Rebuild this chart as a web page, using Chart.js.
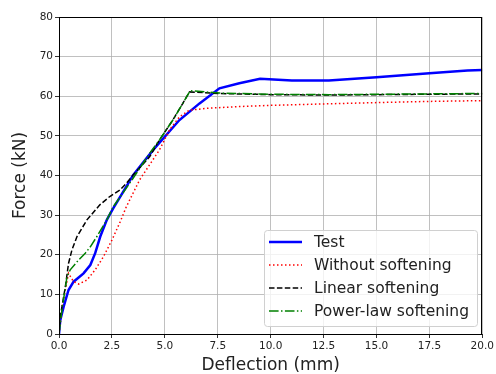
<!DOCTYPE html>
<html>
<head>
<meta charset="utf-8">
<script src="https://cdn.jsdelivr.net/npm/chart.js@4/dist/chart.umd.min.js"></script>
<style>
  html, body { margin: 0; padding: 0; background: #fff; }
  canvas { display: block; }
</style>
</head>
<body>
<canvas id="fd" width="496" height="374"></canvas>
<script>
// Force-deflection curves.
const testX = [0, 0.06, 0.22, 0.45, 0.69, 1.16, 1.48, 1.71, 1.95, 2.26, 2.56, 3.18, 3.5, 4.44, 5.69, 6.64, 7.58, 8.52, 9.5, 11.0, 12.75, 15.0, 17.5, 19.3, 20.0];
const testY = [0, 3.5, 6.9, 11.1, 13.2, 15.3, 17.4, 20.4, 24.6, 28.8, 31.7, 37.2, 40.1, 46.4, 54.0, 58.2, 62.0, 63.3, 64.4, 64.0, 64.0, 64.8, 65.8, 66.5, 66.6];

const noSoftX = [0, 0.15, 0.45, 0.69, 0.93, 1.32, 1.71, 2.1, 2.5, 2.89, 3.18, 3.81, 4.75, 5.22, 5.69, 6.16, 7.1, 8.52, 10.0, 12.75, 15.0, 17.5, 20.0];
const noSoftY = [0, 7.0, 15.3, 13.2, 12.6, 13.6, 16.2, 19.5, 23.7, 28.3, 32.1, 38.9, 46.5, 51.5, 54.8, 56.5, 57.0, 57.4, 57.7, 58.1, 58.4, 58.7, 58.9];

const linSoftX = [0, 0.06, 0.3, 0.45, 0.61, 0.85, 1.32, 1.93, 2.4, 2.87, 3.18, 3.5, 4.28, 4.75, 5.38, 5.85, 6.16, 7.58, 10.0, 12.75, 15.0, 17.5, 20.0];
const linSoftY = [0, 4.4, 11.9, 17.8, 21.2, 24.6, 28.8, 32.6, 34.7, 36.3, 38.0, 40.1, 44.7, 49.0, 54.0, 58.2, 61.1, 60.7, 60.4, 60.3, 60.4, 60.5, 60.6];

const powSoftX = [0, 0.14, 0.38, 0.53, 0.93, 1.24, 1.48, 1.79, 2.26, 2.56, 3.18, 3.5, 4.28, 4.75, 5.38, 5.85, 6.2, 7.58, 10.0, 12.75, 15.0, 17.5, 20.0];
const powSoftY = [0, 6.1, 14.5, 16.2, 18.7, 20.4, 22.0, 24.6, 28.8, 32.1, 36.8, 39.3, 45.6, 49.0, 54.0, 58.2, 61.4, 60.8, 60.5, 60.4, 60.5, 60.6, 60.7];

const seriesLabels = ["Test", "Without softening", "Linear softening", "Power-law softening"];
const xTicks = [0, 2.5, 5, 7.5, 10, 12.5, 15, 17.5, 20];
const yTicks = [0, 10, 20, 30, 40, 50, 60, 70, 80];

const FONT = "'DejaVu Sans', sans-serif";
const pts = (xs, ys) => xs.map((x, i) => ({ x, y: ys[i] }));

const styles = [
  { borderColor: "#0000ff", borderWidth: 2.5, borderDash: [] },
  { borderColor: "#ff0000", borderWidth: 1.5, borderDash: [1.5, 2.5] },
  { borderColor: "#000000", borderWidth: 1.5, borderDash: [5.5, 2.4] },
  { borderColor: "#008000", borderWidth: 1.5, borderDash: [9.6, 2.4, 1.5, 2.4] },
];
const values = [pts(testX, testY), pts(noSoftX, noSoftY), pts(linSoftX, linSoftY), pts(powSoftX, powSoftY)];

const datasets = values.map((d, i) => ({
  label: seriesLabels[i],
  data: d,
  ...styles[i],
  pointRadius: 0,
  tension: 0,
  fill: false,
  order: values.length - i, // later series on top, like matplotlib
}));

// black frame round the plot + matplotlib-ish legend box in the lower right
const frameAndLegend = {
  id: "frameAndLegend",
  afterDatasetsDraw(chart) {
    const { ctx, chartArea: a } = chart;
    ctx.save();
    ctx.strokeStyle = "#000";
    ctx.lineWidth = 1;
    ctx.setLineDash([]);
    ctx.strokeRect(Math.round(a.left) + 0.5, Math.round(a.top) + 0.5,
      Math.round(a.right - a.left) - 1, Math.round(a.bottom - a.top));

    const bx = 264, by = 230, bw = 213, bh = 96, r = 3;
    ctx.beginPath();
    ctx.roundRect(bx + 0.5, by + 0.5, bw, bh, r);
    ctx.fillStyle = "rgba(255,255,255,0.8)";
    ctx.fill();
    ctx.strokeStyle = "#d0d0d0";
    ctx.stroke();

    ctx.font = "15.5px " + FONT;
    ctx.textBaseline = "middle";
    chart.data.datasets.forEach((ds, i) => {
      const yy = 242 + i * 23;
      ctx.beginPath();
      ctx.strokeStyle = ds.borderColor;
      ctx.lineWidth = ds.borderWidth;
      ctx.setLineDash(ds.borderDash);
      ctx.moveTo(269, yy);
      ctx.lineTo(302, yy);
      ctx.stroke();
      ctx.setLineDash([]);
      ctx.fillStyle = "#222";
      ctx.fillText(ds.label, 314, yy + 1);
    });
    ctx.restore();
  },
};

new Chart(document.getElementById("fd"), {
  type: "line",
  data: { datasets },
  plugins: [frameAndLegend],
  options: {
    responsive: false,
    animation: false,
    layout: { padding: { top: 17, right: 12, left: 0, bottom: 0 } },
    plugins: { legend: { display: false }, tooltip: { enabled: false } },
    scales: {
      x: {
        type: "linear",
        min: 0,
        max: 20,
        afterFit: (s) => { s.height = 40; },
        afterBuildTicks: (s) => { s.ticks = xTicks.map((v) => ({ value: v })); },
        ticks: { font: { family: FONT, size: 10.5 }, color: "#222", padding: 2, maxRotation: 0,
          callback: (v) => Number(v).toFixed(1) },
        grid: { color: "#b0b0b0", lineWidth: 0.8, tickColor: "#000", tickLength: 4 },
        border: { display: true, color: "#000" },
        title: { display: true, text: "Deflection (mm)", font: { family: FONT, size: 17 }, color: "#222",
          padding: { top: 0, bottom: -2 } },
      },
      y: {
        min: 0,
        max: 80,
        afterFit: (s) => { s.width = 59; },
        afterBuildTicks: (s) => { s.ticks = yTicks.map((v) => ({ value: v })); },
        ticks: { font: { family: FONT, size: 10.5 }, color: "#222", padding: 2 },
        grid: { color: "#b0b0b0", lineWidth: 0.8, tickColor: "#000", tickLength: 4 },
        border: { display: true, color: "#000" },
        title: { display: true, text: "Force (kN)", font: { family: FONT, size: 17 }, color: "#222",
          padding: { top: 10, bottom: 0 } },
      },
    },
  },
});
</script>
</body>
</html>
